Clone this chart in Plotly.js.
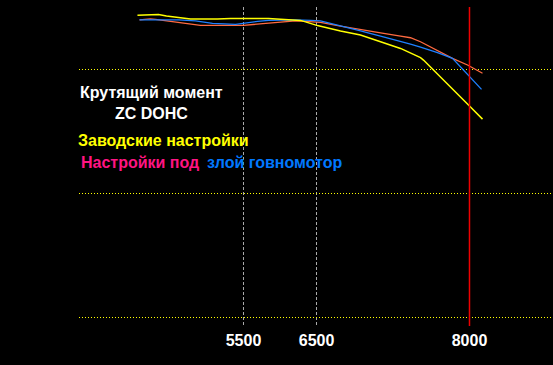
<!DOCTYPE html>
<html>
<head>
<meta charset="utf-8">
<script src="https://cdn.plot.ly/plotly-3.0.1.min.js"></script>
<style>html,body{margin:0;padding:0;background:#000;}#chart{width:553px;height:365px;}</style>
</head>
<body>
<div id="chart"></div>
<script>
// Engine speed (rpm) and torque readings (arbitrary torque units)
const rpmFactory = [4327, 4427, 4493, 4560, 4648, 4737, 4814, 4914, 5212, 5356, 5777, 5931, 6075, 6131, 6186, 6319, 6573, 6794, 7016, 7237, 7458, 7491, 8000, 8144];
const torqueFactory = [22.21, 22.22, 22.25, 22.24, 22.18, 22.14, 22.10, 22.06, 22.06, 22.08, 22.08, 22.04, 22.02, 22.00, 21.94, 21.79, 21.57, 21.41, 21.14, 20.87, 20.50, 20.40, 18.55, 18.02];

const rpmTunedA = [4350, 4471, 4527, 4604, 4715, 4781, 4892, 5024, 5500, 5655, 5777, 5909, 6075, 6186, 6352, 6573, 6794, 7016, 7237, 7347, 7458, 7602, 7812, 7978, 8144];
const torqueTunedA = [22.02, 22.06, 22.04, 22.00, 21.96, 21.92, 21.85, 21.80, 21.80, 21.85, 21.90, 21.94, 21.98, 21.96, 21.92, 21.77, 21.65, 21.50, 21.37, 21.30, 21.14, 20.87, 20.47, 20.20, 19.87];

const rpmTunedB = [4350, 4781, 4969, 5058, 5157, 5412, 5544, 5655, 5777, 6075, 6241, 6352, 6462, 6573, 6794, 7016, 7237, 7347, 7458, 7646, 7812, 7978, 8133];
const torqueTunedB = [22.02, 22.02, 21.98, 21.94, 21.88, 21.84, 21.92, 21.96, 22.00, 22.02, 22.00, 21.98, 21.88, 21.77, 21.58, 21.37, 21.17, 21.04, 20.92, 20.70, 20.47, 19.80, 19.22];

const tickValues = [5500, 6308, 8000];
const tickLabels = ['5500', '6500', '8000'];
const gridTorque = [10, 15, 20];
const markerRpm = 8000;

const titleLine1 = 'Крутящий момент';
const titleLine2 = 'ZC DOHC';
const legendFactory = 'Заводские настройки';
const legendTunedA = 'Настройки под';
const legendTunedB = 'злой говномотор';

const FONT = 'Liberation Sans, Arial, sans-serif';

const traces = [
  {x: rpmTunedA, y: torqueTunedA, mode: 'lines', line: {color: '#ff6a40', width: 1.3}, hoverinfo: 'skip'},
  {x: rpmTunedB, y: torqueTunedB, mode: 'lines', line: {color: '#1e80ff', width: 1.3}, hoverinfo: 'skip'},
  {x: rpmFactory, y: torqueFactory, mode: 'lines', line: {color: '#ffff00', width: 1.5}, hoverinfo: 'skip'}
];

function ann(text, x, y, xanchor, color, size) {
  return {text: text, xref: 'paper', yref: 'paper', x: x, y: y, xanchor: xanchor, yanchor: 'middle',
    showarrow: false, font: {family: FONT, size: size, color: color, weight: 'bold'}};
}

const layout = {
  width: 553, height: 365,
  margin: {l: 79, r: 0, t: 7, b: 39, pad: 0},
  paper_bgcolor: '#000000', plot_bgcolor: '#000000',
  showlegend: false,
  xaxis: {
    range: [3680.5, 8923.7], tickvals: tickValues, ticktext: tickLabels,
    showgrid: true, gridcolor: '#aaaaaa', griddash: '3px,2px', gridwidth: 1,
    zeroline: false, showline: false, ticks: '', ticklabelstandoff: 3,
    tickfont: {family: FONT, size: 16, color: '#ffffff', weight: 'bold'}
  },
  yaxis: {
    range: [9.677, 22.54], tickvals: gridTorque, showticklabels: false,
    showgrid: true, gridcolor: '#ffff00', griddash: '1px,2px', gridwidth: 1,
    zeroline: false, showline: false, ticks: ''
  },
  shapes: [
    {type: 'line', xref: 'x', yref: 'paper', x0: markerRpm, x1: markerRpm, y0: 0, y1: 1,
     line: {color: '#ee0000', width: 1.5}, layer: 'above'}
  ],
  annotations: [
    ann(titleLine1, 0.154, 0.7326, 'center', '#ffffff', 16),
    ann(titleLine2, 0.154, 0.6646, 'center', '#ffffff', 16),
    ann(legendFactory, -0.0063, 0.5809, 'left', '#ffff00', 16),
    ann(legendTunedA, 0.0, 0.5116, 'left', '#ff1482', 16),
    ann(legendTunedB, 0.2658, 0.5116, 'left', '#0078ff', 16)
  ]
};

Plotly.newPlot('chart', traces, layout, {displayModeBar: false, staticPlot: true});
</script>
</body>
</html>
